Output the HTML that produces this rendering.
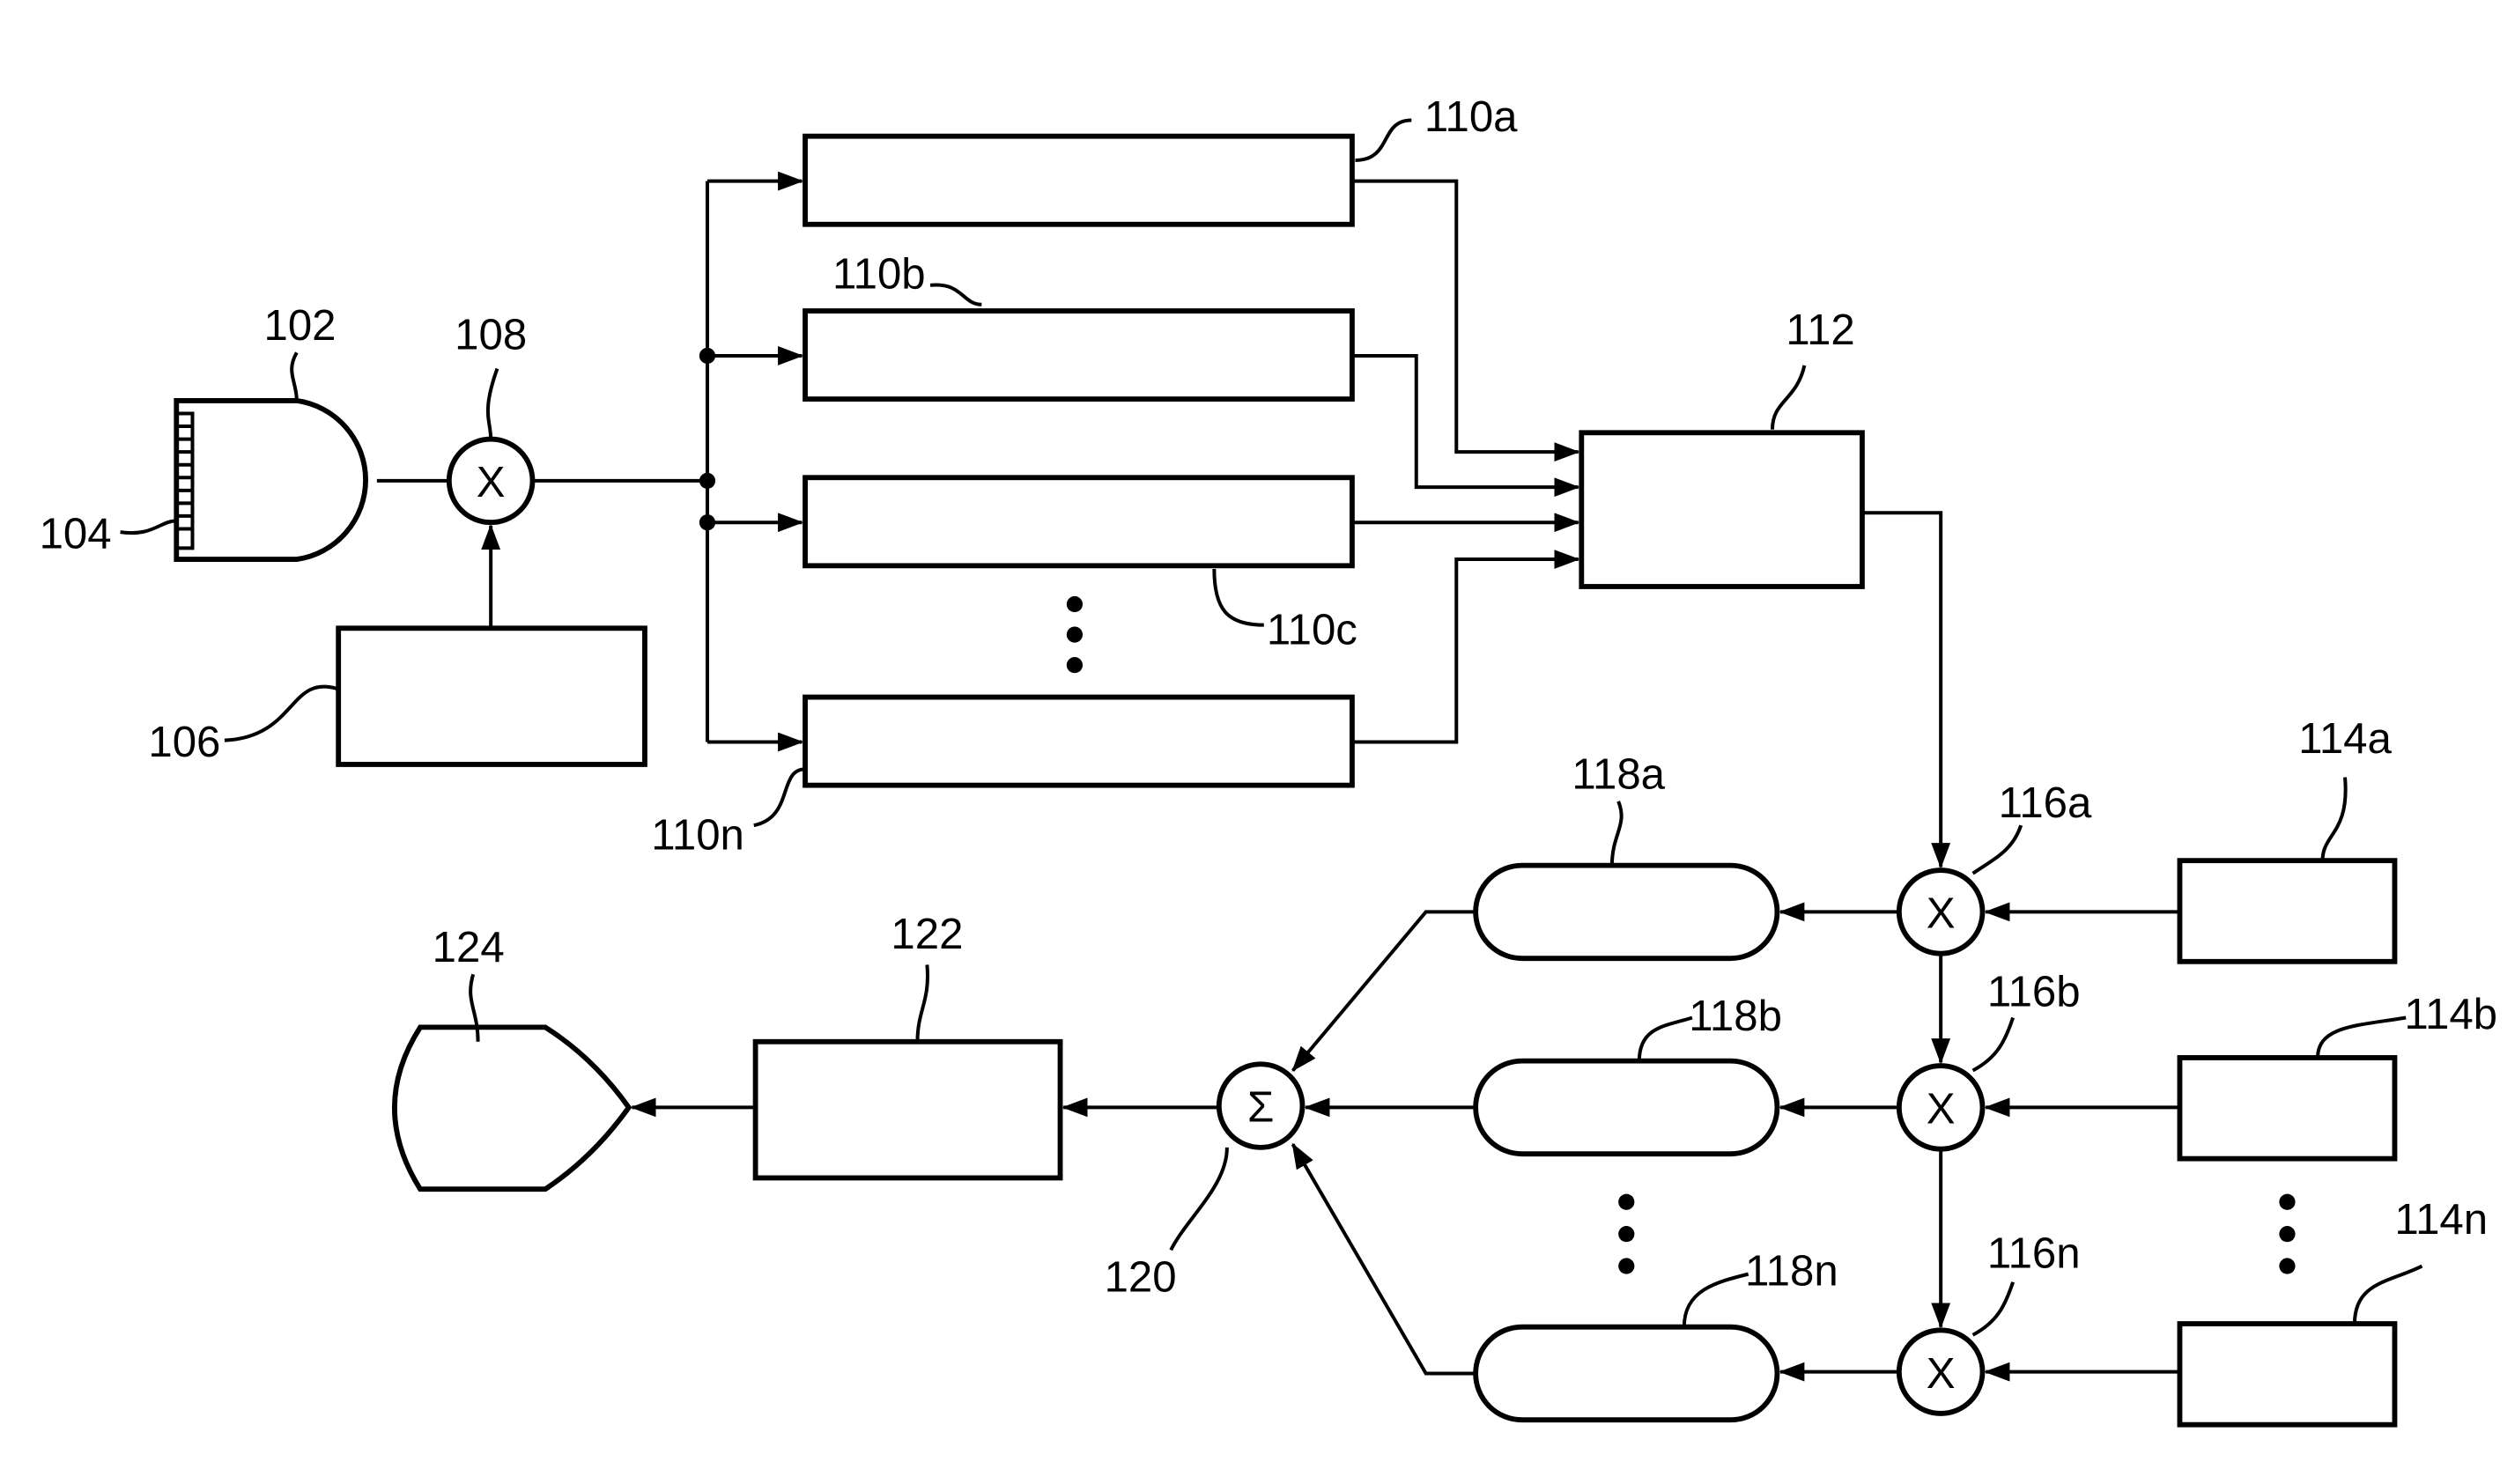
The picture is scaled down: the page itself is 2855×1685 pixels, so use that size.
<!DOCTYPE html>
<html><head><style>html,body{margin:0;padding:0;background:#fff}svg{display:block}
text{font-family:"Liberation Sans Narrow","Liberation Sans",sans-serif;font-size:27px;fill:#000}</style></head>
<body>
<svg width="2855" height="1685" viewBox="0 0 1568 926" preserveAspectRatio="none" xmlns="http://www.w3.org/2000/svg">
<defs><marker id="a" markerWidth="16" markerHeight="12" refX="15" refY="6" orient="auto" markerUnits="userSpaceOnUse"><path d="M0,0 L16,6 L0,12 Z" fill="#000"/></marker></defs>
<g fill="none" stroke="#000" stroke-width="2.2">
<rect x="502" y="85" width="341" height="55" stroke-width="3.2"/>
<rect x="502" y="194" width="341" height="55" stroke-width="3.2"/>
<rect x="502" y="298" width="341" height="55" stroke-width="3.2"/>
<rect x="502" y="435" width="341" height="55" stroke-width="3.2"/>
<path d="M441,113 V463"/>
<path d="M441,113 H500" marker-end="url(#a)"/>
<path d="M441,222 H500" marker-end="url(#a)"/>
<path d="M441,326 H500" marker-end="url(#a)"/>
<path d="M441,463 H500" marker-end="url(#a)"/>
<path d="M332,300 H441"/>
<path d="M110,250 H185 A50,50 0 0 1 185,349 H110 Z" stroke-width="3.2"/>
<path d="M110,258 H120 V342 H110"/>
<path d="M110,266 H120 M110,274 H120 M110,282 H120 M110,290 H120 M110,298 H120 M110,306 H120 M110,314 H120 M110,322 H120 M110,330 H120"/>
<path d="M235,300 H280"/>
<circle cx="306" cy="300" r="26" stroke-width="3.2"/>
<rect x="211" y="392" width="191" height="85" stroke-width="3.2"/>
<path d="M306,392 V328" marker-end="url(#a)"/>
<rect x="986" y="270" width="175" height="96" stroke-width="3.2"/>
<path d="M843,113 H908 V282 H984" marker-end="url(#a)"/>
<path d="M843,222 H883 V304 H984" marker-end="url(#a)"/>
<path d="M843,326 H984" marker-end="url(#a)"/>
<path d="M843,463 H908 V349 H984" marker-end="url(#a)"/>
<path d="M1161,320 H1210 V541" marker-end="url(#a)"/>
<circle cx="1210" cy="569" r="26" stroke-width="3.2"/>
<circle cx="1210" cy="691" r="26" stroke-width="3.2"/>
<circle cx="1210" cy="856" r="26" stroke-width="3.2"/>
<path d="M1210,595 V663" marker-end="url(#a)"/>
<path d="M1210,717 V828" marker-end="url(#a)"/>
<rect x="1359" y="537" width="134" height="63" stroke-width="3.2"/>
<rect x="1359" y="660" width="134" height="63" stroke-width="3.2"/>
<rect x="1359" y="826" width="134" height="63" stroke-width="3.2"/>
<path d="M1359,569 H1238" marker-end="url(#a)"/>
<path d="M1359,691 H1238" marker-end="url(#a)"/>
<path d="M1359,856 H1238" marker-end="url(#a)"/>
<rect x="920" y="540" width="188" height="58" rx="29" stroke-width="3.2"/>
<rect x="920" y="662" width="188" height="58" rx="29" stroke-width="3.2"/>
<rect x="920" y="828" width="188" height="58" rx="29" stroke-width="3.2"/>
<path d="M1184,569 H1110" marker-end="url(#a)"/>
<path d="M1184,691 H1110" marker-end="url(#a)"/>
<path d="M1184,856 H1110" marker-end="url(#a)"/>
<circle cx="786" cy="690" r="26" stroke-width="3.2"/>
<path d="M920,569 H889 L806,668" marker-end="url(#a)"/>
<path d="M920,691 H814" marker-end="url(#a)"/>
<path d="M920,857 H889 L806,714" marker-end="url(#a)"/>
<rect x="471" y="650" width="190" height="85" stroke-width="3.2"/>
<path d="M760,691 H663" marker-end="url(#a)"/>
<path d="M262,641 H340 Q370,660 392,691 Q370,722 340,742 H262 Q230,691 262,641 Z" stroke-width="3.2"/>
<path d="M471,691 H394" marker-end="url(#a)"/>
<path d="M845,100 C868,100 860,75 880,75"/>
<path d="M580,178 C600,176 600,190 612,190"/>
<path d="M1105,268 C1105,250 1120,250 1125,228"/>
<path d="M185,250 C185,238 178,232 185,220"/>
<path d="M306,274 C306,262 300,258 310,230"/>
<path d="M110,325 C100,325 95,335 75,332"/>
<path d="M211,430 C180,420 185,460 140,462"/>
<path d="M757,355 C757,380 765,390 788,390"/>
<path d="M502,480 C485,480 495,510 470,515"/>
<path d="M1005,540 C1005,520 1015,515 1009,500"/>
<path d="M1230,545 C1245,535 1255,530 1260,515"/>
<path d="M1448,537 C1448,520 1465,520 1462,485"/>
<path d="M1230,668 C1245,660 1250,650 1255,635"/>
<path d="M1445,660 C1445,640 1470,640 1500,635"/>
<path d="M1022,662 C1022,640 1040,640 1055,635"/>
<path d="M1230,833 C1245,825 1250,815 1255,800"/>
<path d="M1468,826 C1468,800 1490,800 1510,790"/>
<path d="M1050,828 C1050,805 1070,800 1090,795"/>
<path d="M298,650 C298,630 290,625 295,608"/>
<path d="M572,650 C572,630 580,625 578,602"/>
<path d="M765,716 C765,740 740,760 730,780"/>
</g>
<g fill="#000">
<circle cx="441" cy="222" r="5"/><circle cx="441" cy="300" r="5"/><circle cx="441" cy="326" r="5"/>
<circle cx="670" cy="377" r="5"/><circle cx="670" cy="396" r="5"/><circle cx="670" cy="415" r="5"/>
<circle cx="1014" cy="750" r="5"/><circle cx="1014" cy="770" r="5"/><circle cx="1014" cy="790" r="5"/>
<circle cx="1426" cy="750" r="5"/><circle cx="1426" cy="770" r="5"/><circle cx="1426" cy="790" r="5"/>
</g>
<g text-anchor="middle">
<text x="306" y="310">X</text>
<text x="1210" y="579">X</text><text x="1210" y="701">X</text><text x="1210" y="866">X</text>
<text x="786" y="700">Σ</text>
<text x="917" y="82">110a</text>
<text x="548" y="180">110b</text>
<text x="1135" y="215">112</text>
<text x="187" y="212">102</text>
<text x="306" y="218">108</text>
<text x="47" y="342">104</text>
<text x="115" y="472">106</text>
<text x="818" y="402">110c</text>
<text x="435" y="530">110n</text>
<text x="1009" y="492">118a</text>
<text x="1275" y="510">116a</text>
<text x="1462" y="470">114a</text>
<text x="1268" y="628">116b</text>
<text x="1528" y="642">114b</text>
<text x="1082" y="643">118b</text>
<text x="1268" y="791">116n</text>
<text x="1522" y="770">114n</text>
<text x="1117" y="802">118n</text>
<text x="292" y="600">124</text>
<text x="578" y="592">122</text>
<text x="711" y="806">120</text>
</g>
</svg>
</body></html>
